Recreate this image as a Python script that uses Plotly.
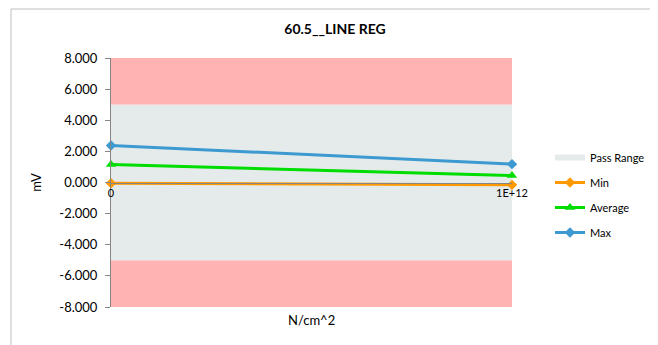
import plotly.graph_objects as go

# data
categories = ["0", "1E+12"]
min_vals = [-0.05, -0.15]
avg_vals = [1.16, 0.45]
max_vals = [2.38, 1.18]
pass_low, pass_high = -5, 5
y_low, y_high = -8, 8
y_ticks = [-8, -6, -4, -2, 0, 2, 4, 6, 8]
y_tick_text = ["-8.000", "-6.000", "-4.000", "-2.000", "0.000",
               "2.000", "4.000", "6.000", "8.000"]

FONT = "Lato, 'Open Sans', sans-serif"

fig = go.Figure()

# bands (drawn as closed polygons over the two categories)
band_x = [categories[0], categories[1], categories[1], categories[0]]
fig.add_trace(go.Scatter(
    x=band_x, y=[pass_high, pass_high, y_high, y_high], fill="toself",
    fillcolor="#FFB3B3", mode="none", showlegend=False, hoverinfo="skip"))
fig.add_trace(go.Scatter(
    x=band_x, y=[y_low, y_low, pass_low, pass_low], fill="toself",
    fillcolor="#FFB3B3", mode="none", showlegend=False, hoverinfo="skip"))
fig.add_trace(go.Scatter(
    x=band_x, y=[pass_low, pass_low, pass_high, pass_high], fill="toself",
    fillcolor="#E5EBEB", mode="none", name="Pass Range",
    legendgroup="a", legendrank=1))

# series lines
series = [
    ("Min", min_vals, "#FF9900", "diamond", 8, 2),
    ("Average", avg_vals, "#00DD00", "triangle-up", 9, 3),
    ("Max", max_vals, "#3C9AD0", "diamond", 8, 4),
]
for name, vals, color, symbol, size, rank in series:
    fig.add_trace(go.Scatter(
        x=categories, y=vals, mode="lines+markers", name=name,
        line=dict(color=color, width=3),
        marker=dict(symbol=symbol, size=size, color=color),
        cliponaxis=False, legendgroup=name, legendrank=rank))

# page body has an 8px margin, so the figure is 8px smaller and shifted
fig.update_layout(
    width=650, height=337,
    margin=dict(l=103, r=146, t=50, b=38),
    paper_bgcolor="white", plot_bgcolor="white",
    font=dict(family=FONT, size=13, color="#000000"),
    title=dict(text="<b>60.5__LINE REG</b>", x=(335 - 111) / 401,
               xref="paper", xanchor="center", y=1 - 21 / 337,
               yanchor="middle", font=dict(size=14)),
    showlegend=True,
    legend=dict(xref="container", yref="container",
                x=542 / 650, y=1 - 135 / 337, xanchor="left", yanchor="top",
                font=dict(size=11), tracegroupgap=6, itemwidth=30,
                bgcolor="rgba(0,0,0,0)"),
    xaxis=dict(type="category", range=[0, 1], anchor="free", position=0.5,
               showline=True, linecolor="#868686", linewidth=1,
               ticks="", showgrid=False, zeroline=False, automargin=False,
               tickfont=dict(size=11), ticklabelstandoff=0),
    yaxis=dict(range=[y_low, y_high], tickvals=y_ticks, ticktext=y_tick_text,
               showline=True, linecolor="#868686", linewidth=1,
               ticks="outside", ticklen=5, tickcolor="#868686",
               ticklabelstandoff=5,
               showgrid=False, zeroline=False, automargin=False,
               title=dict(text="mV", standoff=14, font=dict(size=13))),
)

# x axis title sits at the bottom, below the plot area
fig.add_annotation(text="N/cm^2", xref="paper", yref="paper",
                   x=(311 - 111) / 401, y=-3 / 249, yanchor="top",
                   showarrow=False, font=dict(size=13))

# outer chart border (cut off at right and bottom in the reference)
fig.add_shape(type="rect", xref="paper", yref="paper",
              x0=(11 - 111) / 401, x1=2, y0=-1, y1=1 + 49 / 249,
              line=dict(color="#BFBFBF", width=1), layer="below")

fig.write_html("out.html")
